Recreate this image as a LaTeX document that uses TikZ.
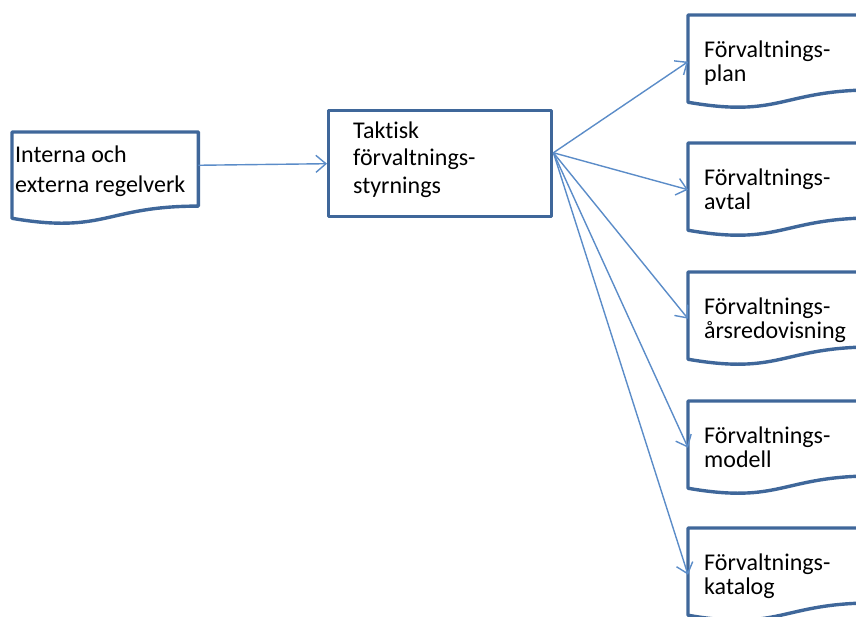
\documentclass[tikz,border=0pt]{standalone}
\usepackage{fontspec}
\setmainfont{Carlito}[Ligatures=NoCommon]
\usetikzlibrary{arrows.meta,calc}
\definecolor{frameblue}{HTML}{3F679A}
\definecolor{linkblue}{HTML}{5B8CC8}
% Outline of a flowchart "document" shape around an empty node
\newcommand\docpath[1]{%
  \draw[frame] (#1.north west) -- (#1.north east)
    -- ($(#1.north east)!0.802!(#1.south east)$)
    .. controls ($(#1.north)!0.802!(#1.south)$) and ($(#1.north)!1.107!(#1.south)$)
    .. ($(#1.north west)!0.934!(#1.south west)$) -- cycle;}
\begin{document}
\begin{tikzpicture}[x=1pt,y=-1pt,
  frame/.style={draw=frameblue,line width=3.4pt,line join=round},
  docnode/.style={inner sep=0pt,anchor=north west,minimum width=186pt,minimum height=93pt},
  hubbox/.style={frame,inner sep=0pt,anchor=north west,minimum width=223pt,minimum height=106pt},
  txt/.style={inner sep=0pt,anchor=base west,align=left,font=\fontsize{24pt}{#1}\selectfont},
  link/.style={draw=linkblue,line width=1.4pt,
    -{Straight Barb[length=10pt,width=17pt,line width=1.4pt]}}]
\useasboundingbox (0,0) rectangle (856,616);
\clip (0,0) rectangle (856,616);

% source document and central box
\node[docnode,minimum height=92pt] (src) at (12,132) {};
\docpath{src}
\node[hubbox] (hub) at (327,109) {};

% result documents on the right
\node[docnode] (doc1) at (688,15) {};
\node[docnode] (doc2) at (688,143) {};
\node[docnode] (doc3) at (688,272) {};
\node[docnode] (doc4) at (688,401) {};
\node[docnode] (doc5) at (688,528) {};
\foreach \d in {doc1,doc2,doc3,doc4,doc5} {\docpath{\d}}

% labels (positioned by the baseline of their last line)
\node[txt=30pt] (srctext) at (15,192) {Interna och\\externa regelverk};
\node[txt=27.5pt] (hubtext) at (353,193) {Taktisk\\förvaltnings-\\styrnings};
\node[txt=24pt] (doc1text) at (704,81) {Förvaltnings-\\plan};
\node[txt=24pt] (doc2text) at (704,209) {Förvaltnings-\\avtal};
\node[txt=24pt] (doc3text) at (704,338) {Förvaltnings-\\årsredovisning};
\node[txt=24pt] (doc4text) at (704,467) {Förvaltnings-\\modell};
\node[txt=24pt] (doc5text) at (704,594) {Förvaltnings-\\katalog};

% connectors
\draw[link] ($(src.north east)!0.36!(src.south east)$) -- (hub.west);
\coordinate (hubout) at ($(hub.north east)!0.4!(hub.south east)$);
\foreach \d in {doc1,doc2,doc3,doc4,doc5} {\draw[link] (hubout) -- (\d.west);}
\end{tikzpicture}
\end{document}
